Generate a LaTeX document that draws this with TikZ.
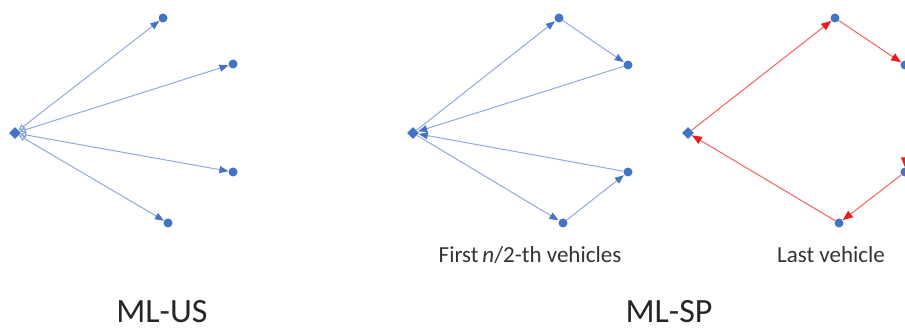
\documentclass[tikz,border=0pt]{standalone}
\usepackage{fontspec}
\setmainfont{Carlito}
\usetikzlibrary{arrows.meta,shapes.geometric}
\definecolor{nodeblue}{RGB}{68,114,196}
\definecolor{edgeblue}{RGB}{143,170,220}
\definecolor{edgered}{RGB}{244,96,96}
\definecolor{headred}{RGB}{230,30,30}
\tikzset{
  cust/.style={circle,fill=nodeblue,inner sep=0pt,minimum size=9pt},
  depot/.style={diamond,fill=nodeblue,inner sep=0pt,minimum size=12pt},
  blueedge/.style={draw=edgeblue,line width=1pt,-{Triangle[length=9pt,width=7pt,fill=nodeblue,color=nodeblue]},shorten >=0.5pt},
  biedge/.style={draw=edgeblue,line width=1pt,
    {Triangle[open,length=6pt,width=6pt,color=nodeblue!70]}-{Triangle[length=9pt,width=7pt,color=nodeblue]}},
  rededge/.style={draw=edgered,line width=1pt,-{Triangle[length=10pt,width=8pt,color=headred]}},
  lbl/.style={font=\fontsize{23}{26}\selectfont,text=black!80,anchor=base,inner sep=0pt},
  title/.style={font=\fontsize{34}{38}\selectfont,text=black!85,anchor=base,inner sep=0pt,text depth=0pt},
}
\begin{document}
\begin{tikzpicture}[x=1pt,y=-1pt]
\useasboundingbox (0,0) rectangle (905,331);

% ML-US: star routes from the depot
\node[depot] (d1) at (15,133) {};
\node[cust] (a1) at (163,18) {};
\node[cust] (a2) at (233,64) {};
\node[cust] (a3) at (233,172) {};
\node[cust] (a4) at (168,223) {};
\foreach \n in {a1,a2,a3,a4} \draw[biedge] (d1) -- (\n);

% ML-SP: paired routes
\node[depot] (d2) at (413,133) {};
\node[cust] (b1) at (559,18) {};
\node[cust] (b2) at (628,65) {};
\node[cust] (b3) at (628,172) {};
\node[cust] (b4) at (563,223) {};
\draw[blueedge] (d2) -- (b1);
\draw[blueedge] (b1) -- (b2);
\draw[blueedge] (b2) -- (d2);
\draw[blueedge] (d2) -- (b4);
\draw[blueedge] (b4) -- (b3);
\draw[blueedge] (b3) -- (d2);

% ML-SP: last vehicle tour
\node[depot] (d3) at (688,133) {};
\node[cust] (c1) at (835,18) {};
\node[cust] (c2) at (905,65) {};
\node[cust] (c3) at (905,172) {};
\node[cust] (c4) at (839,223) {};
\draw[rededge] (d3) -- (c1);
\draw[rededge] (c1) -- (c2);
\draw[rededge] (c2) -- (c3);
\draw[rededge] (c3) -- (c4);
\draw[rededge] (c4) -- (d3);

% captions
\node[lbl] (l1) at (530,262) {First\,\textit{n}/2-th vehicles};
\node[lbl] (l2) at (831,262) {Last vehicle};
\node[title] (t1) at (162,322) {ML-US};
\node[title] (t2) at (669,322) {ML-SP};
\end{tikzpicture}
\end{document}
